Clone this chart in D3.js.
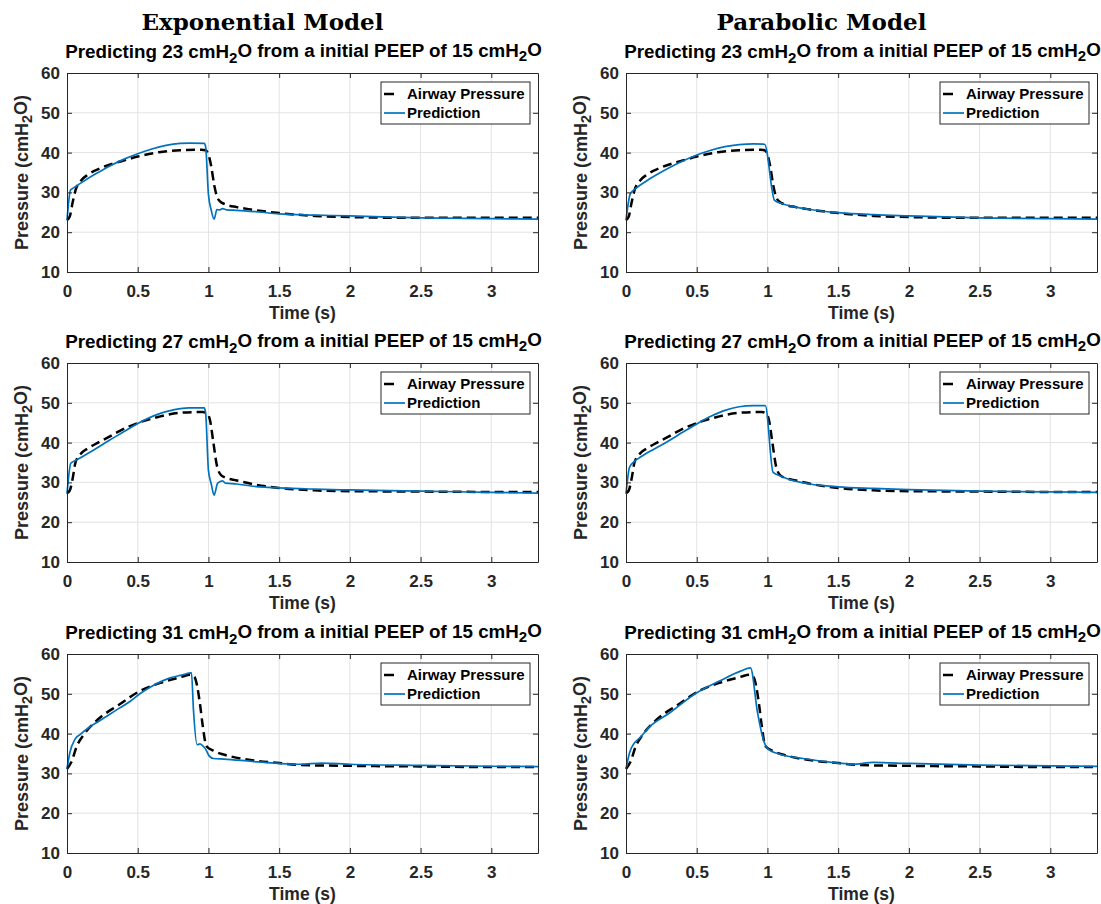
<!DOCTYPE html>
<html>
<head>
<meta charset="utf-8">
<script src="https://cdn.jsdelivr.net/npm/d3@7"></script>
<style>
  html, body { margin: 0; padding: 0; background: #fff; }
  svg { display: block; }
  text { font-family: "Liberation Sans", Arial, sans-serif; }
</style>
</head>
<body>
<svg id="chart" width="1101" height="904"></svg>
<script>
// ---- Data: airway pressure (measured) and model predictions, in cmH2O vs time (s)
const modelTitles = ["Exponential Model", "Parabolic Model"];
const targetPressures = [23, 27, 31];
const initialPeep = 15;
const xTicks = [0, 0.5, 1, 1.5, 2, 2.5, 3];
const xTickLabels = ["0", "0.5", "1", "1.5", "2", "2.5", "3"];
const yTicks = [10, 20, 30, 40, 50, 60];
const yTickLabels = ["10", "20", "30", "40", "50", "60"];
const legendLabels = ["Airway Pressure", "Prediction"];

// measured airway pressure, target 23
const airwayT23 = [0, 0.02, 0.04, 0.06, 0.1, 0.15, 0.25, 0.4, 0.5, 0.65, 0.8, 0.95, 0.98, 1.0, 1.02, 1.04, 1.06, 1.08, 1.12, 1.2, 1.3, 1.5, 1.75, 2.0, 2.5, 3.0, 3.33];
const airwayP23 = [23, 24, 27.5, 30.5, 33, 34.5, 36.3, 38, 39, 40.1, 40.6, 40.7, 40.6, 39.5, 36.5, 32, 29, 27.8, 27, 26.3, 25.7, 24.8, 24.1, 23.8, 23.6, 23.6, 23.6];
// exponential model prediction, target 23
const expT23 = [0, 0.025, 0.05, 0.1, 0.2, 0.3, 0.4, 0.5, 0.6, 0.7, 0.8, 0.87, 0.97, 0.98, 1.0, 1.02, 1.04, 1.06, 1.08, 1.1, 1.13, 1.2, 1.35, 1.5, 1.75, 2.0, 2.5, 3.0, 3.33];
const expP23 = [23, 30.6, 31.2, 32.4, 34.6, 36.6, 38.3, 39.7, 40.9, 41.8, 42.3, 42.4, 42.3, 41.5, 29.5, 25.5, 23.3, 25.7, 25.6, 25.9, 25.6, 25.5, 25.1, 24.6, 24.3, 24.1, 23.6, 23.4, 23.3];
// parabolic model prediction, target 23
const parT23 = [0, 0.03, 0.07, 0.15, 0.25, 0.35, 0.5, 0.6, 0.7, 0.8, 0.9, 0.98, 1.05, 1.1, 1.2, 1.3, 1.5, 1.75, 2.0, 2.5, 3.0, 3.33];
const parP23 = [23, 29.6, 31, 33, 35.1, 37, 39.4, 40.6, 41.5, 42, 42.2, 42.1, 28, 27.2, 26.3, 25.7, 24.9, 24.4, 24.1, 23.6, 23.4, 23.3];

// measured airway pressure, target 27
const airwayT27 = [0, 0.02, 0.04, 0.06, 0.1, 0.15, 0.22, 0.3, 0.37, 0.5, 0.65, 0.8, 0.96, 0.99, 1.01, 1.035, 1.06, 1.09, 1.12, 1.2, 1.31, 1.5, 1.75, 2.0, 2.5, 3.0, 3.33];
const airwayP27 = [27.3, 28, 31, 35, 37.3, 38.6, 40, 41.5, 42.9, 44.9, 46.5, 47.5, 47.7, 47.3, 45.8, 40, 34.2, 31.8, 31.2, 30.5, 29.6, 28.6, 28, 27.8, 27.7, 27.6, 27.6];
// exponential model prediction, target 27
const expT27 = [0, 0.027, 0.06, 0.12, 0.2, 0.3, 0.4, 0.5, 0.64, 0.76, 0.86, 0.97, 0.98, 1.0, 1.02, 1.04, 1.065, 1.1, 1.12, 1.2, 1.3, 1.4, 1.5, 1.75, 2.0, 2.5, 3.0, 3.33];
const expP27 = [27.1, 34.8, 35.5, 36.7, 38.4, 40.6, 42.7, 44.8, 47.1, 48.3, 48.75, 48.7, 47.5, 33, 29.6, 26.8, 29.8, 30.4, 29.8, 29.6, 29.1, 28.8, 28.6, 28.3, 28.1, 27.8, 27.5, 27.3];
// parabolic model prediction, target 27
const parT27 = [0, 0.025, 0.06, 0.1, 0.2, 0.3, 0.4, 0.5, 0.6, 0.7, 0.8, 0.9, 0.985, 1.04, 1.1, 1.15, 1.3, 1.5, 1.75, 2.0, 2.5, 3.0, 3.33];
const parP27 = [27.1, 33.8, 35.3, 36.3, 38.4, 40.4, 42.6, 44.7, 46.6, 48.1, 49, 49.3, 49.3, 32.5, 31.5, 30.8, 29.6, 28.9, 28.5, 28.2, 27.8, 27.6, 27.5];

// measured airway pressure, target 31
const airwayT31 = [0, 0.03, 0.07, 0.12, 0.22, 0.37, 0.515, 0.66, 0.81, 0.87, 0.9, 0.92, 0.94, 0.96, 0.985, 1.035, 1.1, 1.16, 1.31, 1.5, 1.65, 2.0, 2.5, 3.0, 3.33];
const airwayP31 = [31.1, 32.8, 36.9, 39.8, 43.6, 47.3, 50.7, 52.75, 54.25, 54.8, 54.3, 52, 47.5, 41.9, 36.9, 35.7, 34.8, 34.25, 33.3, 32.6, 32.1, 31.9, 31.75, 31.6, 31.6];
// exponential model prediction, target 31
const expT31 = [0, 0.02, 0.057, 0.094, 0.15, 0.22, 0.3, 0.37, 0.45, 0.515, 0.6, 0.66, 0.73, 0.81, 0.88, 0.894, 0.92, 0.94, 0.96, 0.98, 1.005, 1.035, 1.11, 1.31, 1.5, 1.65, 1.8, 2.0, 2.5, 3.0, 3.33];
const expP31 = [31.1, 35.2, 38.6, 39.8, 41.4, 43, 44.8, 46.4, 48.2, 50, 51.9, 53, 54, 54.7, 55.25, 46, 37.2, 37.4, 36.9, 36.1, 34.4, 33.75, 33.6, 33, 32.5, 32.3, 32.6, 32.3, 32, 31.8, 31.7];
// parabolic model prediction, target 31
const parT31 = [0, 0.025, 0.062, 0.1, 0.16, 0.31, 0.5, 0.66, 0.81, 0.88, 0.93, 0.97, 1.005, 1.1, 1.25, 1.5, 1.6, 1.75, 2.0, 2.5, 3.0, 3.33];
const parP31 = [31.1, 35.2, 37.75, 39, 41.5, 45.25, 50.25, 53.2, 55.7, 56.5, 45.25, 38.6, 36.1, 34.7, 33.75, 32.6, 32.3, 32.75, 32.5, 32.1, 31.9, 31.75];

const airwaySeries = [[airwayT23, airwayP23], [airwayT27, airwayP27], [airwayT31, airwayP31]];
const predictionSeries = [
  [[expT23, expP23], [expT27, expP27], [expT31, expP31]],
  [[parT23, parP23], [parT27, parP27], [parT31, parP31]]
];

// ---- Layout
const svg = d3.select("#chart");
const colLeft = [67, 626];
const plotW = 471;
const rowTop = [73, 363, 654];
const plotH = 199;
const axisColor = "#262626";
const gridColor = "#e3e3e3";
const blue = "#0072BD";

const zip = (t, p) => t.map((d, i) => [d, p[i]]);

function subLabel(sel, parts) {
  // parts: array of [text, isSubscript]
  parts.forEach(([txt, sub], i) => {
    const ts = sel.append("tspan").text(txt);
    if (sub) ts.attr("dy", "0.3em").attr("font-size", "0.8em");
    else if (i > 0 && parts[i - 1][1]) ts.attr("dy", "-0.3em");
  });
}

// model titles above each column
modelTitles.forEach((title, c) => {
  svg.append("text")
    .attr("x", colLeft[c] + plotW / 2 - 40)
    .attr("y", 30)
    .attr("text-anchor", "middle")
    .attr("font-weight", "bold")
    .attr("font-size", 23)
    .attr("fill", "#000")
    .style("font-family", "'DejaVu Serif', serif")
    .text(title);
});

for (let c = 0; c < 2; c++) {
  for (let r = 0; r < 3; r++) {
    const x0 = colLeft[c], y0 = rowTop[r];
    const g = svg.append("g").attr("transform", `translate(${x0},${y0})`);
    const x = d3.scaleLinear().domain([0, 3.33]).range([0, plotW]);
    const y = d3.scaleLinear().domain([10, 60]).range([plotH, 0]);

    // grid
    g.append("g").selectAll("line").data(xTicks.filter(d => d > 0)).join("line")
      .attr("x1", d => x(d)).attr("x2", d => x(d)).attr("y1", 0).attr("y2", plotH)
      .attr("stroke", gridColor).attr("stroke-width", 1);
    g.append("g").selectAll("line").data(yTicks.filter(d => d > 10 && d < 60)).join("line")
      .attr("x1", 0).attr("x2", plotW).attr("y1", d => y(d)).attr("y2", d => y(d))
      .attr("stroke", gridColor).attr("stroke-width", 1);

    // lines
    const line = d3.line().x(d => x(d[0])).y(d => y(d[1])).curve(d3.curveMonotoneX);
    const [aT, aP] = airwaySeries[r];
    const [pT, pP] = predictionSeries[c][r];
    g.append("path").datum(zip(aT, aP)).attr("d", line)
      .attr("fill", "none").attr("stroke", "#000").attr("stroke-width", 2.5)
      .attr("stroke-dasharray", "9,5");
    g.append("path").datum(zip(pT, pP)).attr("d", line)
      .attr("fill", "none").attr("stroke", blue).attr("stroke-width", 1.7);

    // axes (ticks inward on all four sides)
    const fmtX = d => xTickLabels[xTicks.indexOf(d)];
    const fmtY = d => yTickLabels[yTicks.indexOf(d)];
    const axB = g.append("g").attr("transform", `translate(0,${plotH})`)
      .call(d3.axisBottom(x).tickValues(xTicks).tickFormat(fmtX).tickSizeInner(-5).tickSizeOuter(0).tickPadding(13));
    const axL = g.append("g")
      .call(d3.axisLeft(y).tickValues(yTicks).tickFormat(fmtY).tickSizeInner(-5).tickSizeOuter(0).tickPadding(7));
    const axT = g.append("g")
      .call(d3.axisTop(x).tickValues(xTicks).tickFormat("").tickSizeInner(-5).tickSizeOuter(0));
    const axR = g.append("g").attr("transform", `translate(${plotW},0)`)
      .call(d3.axisRight(y).tickValues(yTicks).tickFormat("").tickSizeInner(-5).tickSizeOuter(0));
    [axB, axL, axT, axR].forEach(a => {
      a.select(".domain").attr("stroke", axisColor).attr("stroke-width", 1);
      a.selectAll(".tick line").attr("stroke", axisColor).attr("stroke-width", 1);
      a.selectAll(".tick text").attr("fill", axisColor).attr("font-size", 17)
        .attr("font-weight", "bold").attr("font-family", "'Liberation Sans', Arial, sans-serif");
    });

    // subplot title
    const t = g.append("text").attr("x", plotW / 2 + 1).attr("y", -15)
      .attr("text-anchor", "middle").attr("font-size", 18.8).attr("font-weight", "bold").attr("fill", "#000");
    subLabel(t, [[`Predicting ${targetPressures[r]} cmH`, false], ["2", true],
      [`O from a initial PEEP of ${initialPeep} cmH`, false], ["2", true], ["O", false]]);

    // axis labels
    g.append("text").attr("x", plotW / 2).attr("y", plotH + 47)
      .attr("text-anchor", "middle").attr("font-size", 17.5).attr("font-weight", "bold")
      .attr("fill", axisColor).text("Time (s)");
    const yl = g.append("text")
      .attr("transform", `translate(${-39},${plotH / 2}) rotate(-90)`)
      .attr("text-anchor", "middle").attr("font-size", 18).attr("font-weight", "bold").attr("fill", axisColor);
    subLabel(yl, [["Pressure (cmH", false], ["2", true], ["O)", false]]);

    // legend
    const lw = 149, lh = 42;
    const lg = g.append("g").attr("transform", `translate(${plotW - 8 - lw},9)`);
    lg.append("rect").attr("width", lw).attr("height", lh)
      .attr("fill", "#fff").attr("stroke", axisColor).attr("stroke-width", 1);
    const rows = [
      { label: legendLabels[0], stroke: "#000", sw: 2.5, dash: "10,20" },
      { label: legendLabels[1], stroke: blue, sw: 1.7, dash: null }
    ];
    rows.forEach((d, i) => {
      const cy = 12 + i * 19;
      lg.append("line").attr("x1", 3).attr("x2", 24).attr("y1", cy).attr("y2", cy)
        .attr("stroke", d.stroke).attr("stroke-width", d.sw)
        .attr("stroke-dasharray", d.dash);
      lg.append("text").attr("x", 26).attr("y", cy).attr("dy", "0.36em")
        .attr("font-size", 15).attr("font-weight", "bold").attr("fill", "#000").text(d.label);
    });
  }
}
</script>
</body>
</html>
